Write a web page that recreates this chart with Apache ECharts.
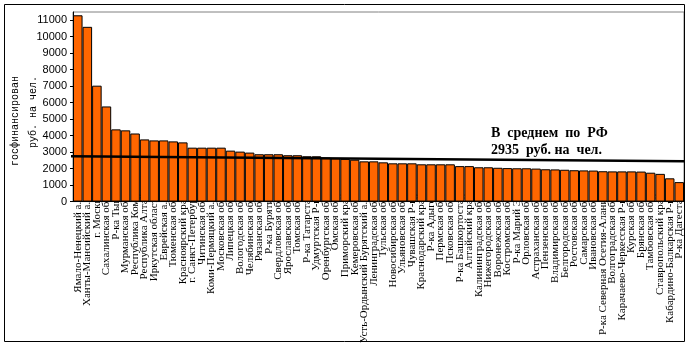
<!DOCTYPE html>
<html>
<head>
<meta charset="utf-8">
<script src="https://cdn.jsdelivr.net/npm/echarts@6/dist/echarts.min.js"></script>
<style>html,body{margin:0;padding:0;background:#fff}#c{width:689px;height:346px}</style>
</head>
<body>
<div id="c"></div>
<script>
var categories = ["Ямало-Ненецкий а.о.","Ханты-Мансийский а.о.","г. Москва","Сахалинская обл.","Р-ка Тыва","Мурманская обл.","Республика Коми","Республика Алтай","Иркутская область","Еврейская а.о.","Тюменская обл.","Красноярский край","г. Санкт-Петербург","Читинская обл.","Коми-Пермяцкий а.о.","Московская обл.","Липецкая обл.","Вологодская обл.","Челябинская обл.","Рязанская обл.","Р-ка Бурятия","Свердловская обл.","Ярославская обл.","Томская обл.","Р-ка Татарстан","Удмуртская Р-ка","Оренбургская обл.","Омская обл.","Приморский край","Кемеровская обл.","Усть-Ордынский Бурятский а.о.","Ленинградская обл.","Тульская обл.","Новосибирская обл.","Ульяновская обл.","Чувашская Р-ка","Краснодарский край","Р-ка Адыгея","Пермская обл.","Псковская обл.","Р-ка Башкортостан","Алтайский край","Калининградская обл.","Нижегородская обл.","Воронежская обл.","Костромская обл.","Р-ка Марий Эл","Орловская обл.","Астраханская обл.","Пензенская обл.","Владимирская обл.","Белгородская обл.","Ростовская обл.","Самарская обл.","Ивановская обл.","Р-ка Северная Осетия-Алания","Волгоградская обл.","Карачаево-Черкесская Р-ка","Курская обл.","Брянская обл.","Тамбовская обл.","Ставропольский край","Кабардино-Балкарская Р-ка","Р-ка Дагестан"];
var values = [11300,10600,7030,5770,4380,4320,4130,3770,3710,3710,3650,3590,3270,3270,3270,3270,3090,3030,2970,2870,2870,2870,2810,2810,2750,2750,2660,2630,2590,2540,2440,2440,2380,2320,2320,2320,2260,2260,2260,2260,2150,2150,2080,2080,2050,2030,2020,2020,2000,1960,1950,1930,1900,1890,1880,1840,1830,1830,1830,1820,1750,1680,1410,1180];
var averageLineX = [-0.5, 64];
var averageLineY = [2745, 2440];
var yTicks = {min: 0, max: 11500, interval: 1000};
var noteLines = ["В  среднем  по  РФ", "2935  руб. на  чел."];
var yTitle = ["госфинансирован", "руб. на чел."];

var chart = echarts.init(document.getElementById('c'), null, {renderer: 'canvas'});
chart.setOption({
  animation: false,
  backgroundColor: '#fff',
  grid: {left: 73, top: 12, width: 611, height: 190.7, show: true, borderColor: '#808080', borderWidth: 1},
  xAxis: [{
    type: 'category', data: categories,
    axisLine: {lineStyle: {color: '#000', width: 1}},
    axisTick: {show: false},
    axisLabel: {interval: 0, rotate: 90, margin: -8, color: '#000', fontFamily: 'Liberation Serif', fontSize: 11}
  }, {
    type: 'value', min: 0, max: 64, show: false
  }],
  yAxis: {
    type: 'value', min: yTicks.min, max: yTicks.max, interval: yTicks.interval,
    splitLine: {show: false},
    axisLine: {show: true, lineStyle: {color: '#000'}},
    axisTick: {show: true, length: 3, lineStyle: {color: '#000'}},
    axisLabel: {showMaxLabel: false, color: '#000', fontFamily: 'Liberation Sans', fontSize: 11, margin: 6,
      formatter: function (v) { return String(v); }}
  },
  series: [{
    type: 'bar', data: values, barCategoryGap: '0%', z: 2,
    itemStyle: {color: '#FF6600', borderColor: '#000', borderWidth: 1}
  }, {
    type: 'line', xAxisIndex: 1, clip: false, symbol: 'none', z: 5,
    data: averageLineX.map(function (x, i) { return [x, averageLineY[i]]; }),
    lineStyle: {color: '#000', width: 2.5}
  }],
  graphic: [
    {type: 'rect', shape: {x: 4.5, y: 4.5, width: 680, height: 337}, style: {fill: 'none', stroke: '#000', lineWidth: 1}, z: 10},
    {type: 'text', x: 491, y: 126, style: {text: noteLines[0], font: 'bold 14px "Liberation Serif"', fill: '#000'}, z: 10},
    {type: 'text', x: 491, y: 143, style: {text: noteLines[1], font: 'bold 14px "Liberation Serif"', fill: '#000'}, z: 10},
    {type: 'text', x: 15, y: 121, rotation: Math.PI / 2, style: {text: yTitle[0], font: '10px "Liberation Mono"', fill: '#000', textAlign: 'center', textVerticalAlign: 'middle'}, z: 10},
    {type: 'text', x: 33, y: 112, rotation: Math.PI / 2, style: {text: yTitle[1], font: '10px "Liberation Mono"', fill: '#000', textAlign: 'center', textVerticalAlign: 'middle'}, z: 10}
  ]
});
</script>
</body>
</html>
